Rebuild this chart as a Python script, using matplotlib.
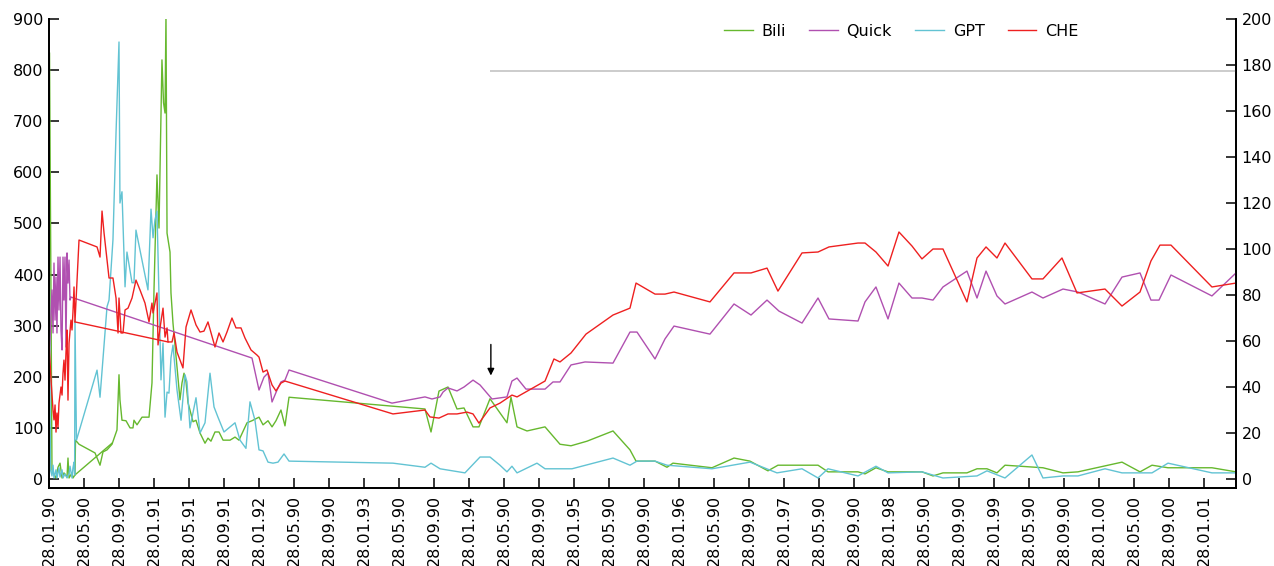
import matplotlib.pyplot as plt
import numpy as np

# x = months after 28.01.90
tick_labels = ["28.01.90", "28.05.90", "28.09.90", "28.01.91", "28.05.91", "28.09.91",
               "28.01.92", "28.05.90", "28.09.90", "28.01.93", "28.05.90", "28.09.90",
               "28.01.94", "28.05.90", "28.09.90", "28.01.95", "28.05.90", "28.09.90",
               "28.01.96", "28.05.90", "28.09.90", "28.01.97", "28.05.90", "28.09.90",
               "28.01.98", "28.05.90", "28.09.90", "28.01.99", "28.05.90", "28.09.90",
               "28.01.00", "28.05.00", "28.09.00", "28.01.01"]
tick_pos = np.arange(len(tick_labels)) * 4

# Bili (left axis)
bili_x = [0, 0.06, 0.23, 0.34, 0.46, 0.8, 1.03, 1.26, 1.49, 1.71, 2.06, 2.17, 2.29, 2.63, 2.74,
          2.97, 3.03, 3.43, 5.26, 5.83, 6.17, 6.63, 7.2, 7.77, 8.0, 8.11, 8.34, 8.8, 9.26, 9.6,
          9.71, 10.06, 10.63, 11.43, 11.77, 12.0, 12.34, 12.57, 12.91, 13.09, 13.26, 13.37,
          13.49, 13.83, 13.94, 14.17, 14.63, 14.97, 15.2, 15.43, 15.66, 15.89, 16.11, 16.46,
          16.8, 17.26, 17.83, 18.17, 18.51, 18.97, 19.43, 19.89, 20.69, 21.26, 21.71, 22.63,
          23.2, 24.0, 24.46, 25.03, 25.49, 25.94, 26.51, 26.97, 27.43, 42.97, 43.66, 44.57,
          45.6, 46.63, 47.43, 48.46, 49.14, 50.4, 52.34, 52.8, 53.49, 54.63, 56.69, 58.4,
          59.66, 61.49, 64.46, 66.4, 67.09, 69.26, 70.63, 71.31, 75.77, 78.29, 80.11, 82.17,
          83.31, 87.89, 89.03, 92.46, 93.26, 94.51, 95.89, 99.77, 101.03, 102.17, 104.91,
          106.06, 107.2, 108.34, 109.26, 113.6, 115.89, 117.6, 122.63, 124.69, 126.06,
          127.89, 132.91, 135.66]
bili_y = [507, 834, 350, 18, 12, 2, 23, 31, 2, 12, 4, 41, 2, 12, 2,
          8, 76, 68, 51, 27, 53, 57, 68, 96, 204, 155, 115, 114, 100, 100,
          115, 106, 121, 121, 188, 370, 595, 491, 820, 736, 716, 910,
          481, 444, 364, 305, 219, 155, 188, 207, 190, 149, 135, 112,
          115, 90, 70, 80, 74, 92, 92, 76, 76, 82, 76, 110,
          114, 121, 106, 114, 102, 114, 135, 104, 160, 137, 92, 172,
          180, 137, 139, 102, 102, 157, 110, 160, 102, 94, 102, 68,
          65, 74, 94, 57, 35, 35, 23, 31, 22, 41, 35, 16,
          27, 27, 14, 14, 10, 22, 14, 14, 6, 12, 12,
          20, 20, 12, 27, 22, 12, 14, 33, 14, 27,
          22, 22, 14]
bili_link_x = [2.97, 7.2]
bili_link_y = [8, 70]

# GPT (left axis)
gpt_x = [0, 0.17, 0.34, 0.46, 0.57, 0.8, 0.91, 1.14, 1.26, 1.49, 1.6, 1.83, 2.06, 2.29, 2.4,
         2.63, 2.74, 2.86, 2.93, 2.97, 3.14, 5.49, 5.83, 6.63, 6.86, 7.31, 7.66, 8.0, 8.11,
         8.34, 8.69, 8.91, 9.49, 9.71, 9.94, 11.31, 11.66, 11.89, 12.11, 12.34, 12.8, 13.03,
         13.26, 13.49, 13.71, 13.94, 14.17, 14.63, 15.09, 15.54, 15.77, 16.11, 16.8, 17.26,
         17.83, 18.4, 18.86, 19.31, 20.0, 21.26, 21.83, 22.51, 22.97, 23.54, 24.0, 24.46,
         25.03, 25.6, 26.17, 26.86, 27.43, 39.31, 42.97, 43.66, 44.69, 47.54, 49.26, 50.4,
         51.54, 52.34, 52.91, 53.49, 55.77, 56.69, 59.77, 64.46, 66.4, 67.2, 69.26, 70.63,
         75.77, 80.11, 83.2, 86.06, 87.89, 89.03, 92.46, 94.51, 95.89, 99.77, 102.17,
         106.06, 107.2, 109.26, 112.34, 113.6, 115.89, 117.6, 120.69, 122.63, 126.06,
         127.89, 132.91, 135.66]
gpt_y = [513, 18, 6, 27, 2, 18, 2, 22, 4, 18, 2, 10, 2, 10, 25,
         2, 22, 33, 8, 311, 76, 213, 160, 337, 350, 468, 677, 855, 540,
         562, 376, 444, 384, 384, 487, 370, 528, 472, 507, 524, 194, 266,
         121, 170, 168, 237, 262, 174, 115, 204, 190, 100, 159, 90,
         110, 207, 141, 121, 92, 110, 76, 60, 151, 115, 57, 55,
         33, 31, 33, 49, 35, 31, 23, 31, 20, 12, 43, 43,
         27, 14, 25, 12, 31, 20, 20, 41, 27, 35, 35, 27,
         20, 33, 12, 20, 2, 20, 6, 25, 12, 14, 2,
         6, 16, 2, 47, 2, 6, 6, 20, 12, 12,
         31, 12, 12]

# Quick (right axis)
quick_x = [0, 0.11, 0.34, 0.46, 0.57, 0.69, 0.8, 0.91, 1.03, 1.14, 1.26, 1.37, 1.49, 1.6,
           1.71, 1.83, 1.94, 2.06, 2.17, 2.29, 2.4, 2.51, 23.2, 24.0, 24.57, 25.03, 25.49,
           26.06, 26.51, 26.97, 27.43, 39.2, 42.97, 43.77, 44.69, 45.03, 45.6, 46.63, 47.43,
           48.46, 49.26, 50.63, 52.34, 52.91, 53.49, 54.51, 56.69, 57.6, 58.4, 59.66, 61.26,
           64.46, 66.4, 67.2, 69.26, 70.4, 71.43, 75.54, 78.29, 80.23, 82.06, 83.43, 86.06,
           87.89, 89.14, 92.46, 93.26, 94.51, 95.89, 97.14, 98.63, 99.77, 101.03, 102.17,
           104.91, 106.06, 107.09, 108.34, 109.26, 112.34, 113.6, 115.89, 117.6, 120.69,
           122.63, 124.69, 125.94, 126.86, 128.23, 132.91, 135.66]
quick_y = [50.9, 60.4, 82.2, 63.5, 93.9, 69.1, 87.8, 63.5, 96.5, 73.5, 96.5, 64.8, 56.1, 96.5,
           77.8, 96.5, 57.4, 98.3, 85.2, 95.2, 77.8, 79.1, 52.6, 38.7, 44.3, 46.1, 33.5,
           38.7, 42.2, 43.0, 47.4, 33.0, 35.7, 34.8, 35.7, 37.8, 39.6, 38.3, 40.0,
           43.0, 40.9, 34.8, 35.7, 42.6, 43.9, 39.1, 39.1, 42.2, 42.2, 49.6, 50.9,
           50.4, 63.9, 63.9, 52.2, 60.9, 66.5, 63.0, 76.1, 71.3, 77.8, 73.0, 67.8,
           78.7, 69.6, 68.7, 77.0, 83.5, 69.6, 85.2, 78.7, 78.7, 77.8, 83.5,
           90.4, 78.7, 90.4, 79.6, 76.1, 81.3, 78.7, 82.6, 81.3, 76.1,
           87.8, 89.6, 77.8, 77.8, 88.7, 79.6, 89.6]

# CHE (right axis)
che_x = [0, 0.23, 0.46, 0.57, 0.69, 0.8, 0.91, 1.03, 1.14, 1.37, 1.49, 1.6, 1.71, 1.83, 1.94,
         2.06, 2.17, 2.29, 2.51, 2.63, 2.74, 2.86, 2.97, 3.43, 5.49, 5.83, 6.06, 6.29, 6.63,
         6.86, 7.31, 7.66, 7.89, 8.0, 8.23, 8.46, 8.69, 9.03, 9.49, 9.94, 10.4, 10.97, 11.43,
         11.77, 11.89, 12.34, 12.46, 12.69, 13.03, 13.26, 13.49, 13.6, 14.06, 14.29, 14.63,
         15.31, 15.66, 16.23, 16.8, 17.26, 17.71, 18.17, 18.97, 19.43, 19.89, 20.34, 20.91,
         21.37, 21.94, 22.4, 23.09, 23.77, 24.0, 24.46, 24.91, 25.49, 25.94, 26.51, 26.97,
         39.31, 42.97, 43.54, 44.57, 45.6, 46.63, 47.77, 48.46, 49.14, 50.4, 51.54, 52.91,
         53.49, 56.69, 57.71, 58.4, 59.66, 61.37, 64.46, 66.4, 67.09, 69.26, 70.4, 71.43,
         75.54, 78.29, 80.23, 82.06, 83.31, 86.06, 87.89, 89.14, 90.74, 92.46, 93.26, 94.51,
         95.89, 97.14, 98.63, 99.77, 101.03, 102.17, 104.91, 106.06, 107.09, 108.34, 109.26,
         112.34, 113.6, 115.77, 117.49, 120.69, 122.63, 124.69, 125.94, 126.97, 128.23,
         132.91, 135.66]
che_y = [59.6, 43.0, 30.0, 25.7, 32.2, 20.4, 28.7, 22.6, 33.0, 40.0, 36.5, 46.1, 51.7, 43.0, 54.8,
         64.8, 34.3, 59.1, 69.1, 64.8, 72.6, 83.5, 68.3, 103.9, 100.9, 96.5, 116.5, 107.0, 95.2,
         87.4, 87.4, 78.7, 63.5, 78.7, 63.5, 63.5, 73.5, 74.3, 78.7, 86.5, 82.2, 76.5, 68.3,
         76.5, 72.2, 80.9, 58.3, 65.7, 74.3, 61.7, 65.7, 59.6, 59.6, 63.5, 55.2,
         48.3, 66.1, 73.5, 67.0, 63.9, 64.3, 68.3, 57.4, 63.5, 59.6, 63.9, 70.0,
         65.7, 65.7, 61.3, 56.1, 53.9, 53.0, 46.5, 47.4, 40.9, 38.3, 41.7, 42.6,
         28.3, 30.0, 27.0, 26.5, 28.3, 28.3, 29.1, 28.3, 24.3, 30.9, 33.0, 36.5,
         35.7, 42.6, 52.2, 50.9, 54.8, 63.0, 71.3, 74.3, 85.2, 80.4, 80.4, 81.3,
         77.0, 89.6, 89.6, 91.7, 81.7, 98.3, 98.7, 100.9, 101.7, 102.6, 102.6, 98.7,
         92.6, 107.4, 101.3, 95.7, 100.0, 100.0, 77.0, 96.1, 100.9, 96.1, 102.6,
         87.0, 87.0, 96.1, 80.9, 82.6, 75.2, 81.3, 94.8, 101.7, 101.7,
         83.5, 85.2]
che_link_x = [2.97, 13.6]
che_link_y = [68.3, 59.6]

ref_level = 177.5
ref_start = 50.4
arrow_at = 50.5

c_bili = '#66b82e'
c_quick = '#b050b0'
c_gpt = '#62c3d3'
c_che = '#ee2020'

plt.rcParams['font.family'] = 'DejaVu Sans'
plt.rcParams['font.size'] = 11.5

fig = plt.figure(figsize=(12.74, 5.66), dpi=100)
ax = fig.add_axes([49 / 1274, 1 - 488 / 566, (1236 - 49) / 1274, (488 - 19) / 566])
ax2 = ax.twinx()

l1, = ax.plot(bili_x, bili_y, color=c_bili, lw=1, label='Bili')
ax.plot(bili_link_x, bili_link_y, color=c_bili, lw=1)
l3, = ax.plot(gpt_x, gpt_y, color=c_gpt, lw=1, label='GPT')
l2, = ax2.plot(quick_x, quick_y, color=c_quick, lw=1, label='Quick')
l4, = ax2.plot(che_x, che_y, color=c_che, lw=1, label='CHE')
ax2.plot(che_link_x, che_link_y, color=c_che, lw=1)

ax2.hlines(ref_level, ref_start, 136, color='#c4c4c4', lw=1.2)
ax2.annotate('', xy=(arrow_at, 45), xytext=(arrow_at, 58.5),
             arrowprops=dict(arrowstyle='-|>', color='black', lw=1,
                             mutation_scale=10, shrinkA=0, shrinkB=0))

ax.set_xlim(0, 135.66)
ax.set_ylim(-17.6, 900)
ax2.set_ylim(-3.9, 200)
ax.set_yticks(np.arange(0, 901, 100))
ax2.set_yticks(np.arange(0, 201, 20))
ax.set_xticks(tick_pos)
ax.set_xticklabels(tick_labels, rotation=90)

for a in (ax, ax2):
    a.spines['top'].set_visible(False)
    for s in ('left', 'right', 'bottom'):
        a.spines[s].set_linewidth(1.3)
    a.tick_params(direction='in', length=7, width=1.1, colors='black', pad=4)
ax.tick_params(axis='x', pad=5)

ax.legend(handles=[l1, l2, l3, l4], loc='upper center', bbox_to_anchor=(0.718, 1.02),
          ncol=4, frameon=False, handlelength=1.8, columnspacing=1.45, handletextpad=0.55)

fig.savefig('out.png', dpi=100)
